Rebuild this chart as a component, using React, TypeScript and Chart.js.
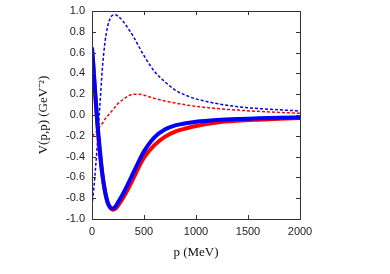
import React, { useEffect, useRef } from "react";
import { Chart, registerables } from "chart.js";

Chart.register(...registerables);

const P = [0, 10, 25, 50, 75, 100, 125, 150, 175, 200, 225, 250, 300, 350, 400, 450, 500, 600, 700, 800, 900, 1000, 1200, 1400, 1600, 1800, 2000];
const blueSolid = [0.65, 0.52, 0.3, -0.05, -0.33, -0.57, -0.73, -0.84, -0.89, -0.9, -0.88, -0.84, -0.755, -0.655, -0.55, -0.445, -0.35, -0.215, -0.14, -0.1, -0.08, -0.065, -0.048, -0.038, -0.032, -0.027, -0.023];
const redSolid = [0.62, 0.5, 0.28, -0.07, -0.36, -0.58, -0.74, -0.84, -0.89, -0.91, -0.9, -0.87, -0.795, -0.705, -0.605, -0.5, -0.41, -0.29, -0.21, -0.16, -0.13, -0.105, -0.072, -0.055, -0.045, -0.037, -0.03];
const redDashed = [-0.2, -0.195, -0.18, -0.15, -0.11, -0.08, -0.04, -0.01, 0.02, 0.05, 0.08, 0.11, 0.15, 0.185, 0.2, 0.2, 0.19, 0.16, 0.135, 0.115, 0.097, 0.083, 0.062, 0.047, 0.035, 0.025, 0.016];
const blueDashed = [-0.87, -0.78, -0.62, -0.3, 0.08, 0.45, 0.7, 0.85, 0.93, 0.96, 0.965, 0.95, 0.9, 0.83, 0.75, 0.66, 0.57, 0.42, 0.32, 0.24, 0.19, 0.155, 0.11, 0.08, 0.062, 0.05, 0.038];
const xTicks = [0, 500, 1000, 1500, 2000];
const yTicks = [-1.0, -0.8, -0.6, -0.4, -0.2, 0.0, 0.2, 0.4, 0.6, 0.8, 1.0];

const pts = (ys: number[]) => P.map((x, i) => ({ x, y: ys[i] }));

const frame = {
  id: "frame",
  afterDatasetsDraw(chart: any) {
    const { ctx, chartArea: a, scales } = chart;
    ctx.save();
    ctx.strokeStyle = "#333";
    ctx.lineWidth = 1;
    const L = 4;
    ctx.beginPath();
    for (const v of xTicks) {
      const x = Math.round(scales.x.getPixelForValue(v)) + 0.5;
      ctx.moveTo(x, a.bottom);
      ctx.lineTo(x, a.bottom - L);
      ctx.moveTo(x, a.top);
      ctx.lineTo(x, a.top + L);
    }
    for (const v of yTicks) {
      const y = Math.round(scales.y.getPixelForValue(v)) + 0.5;
      ctx.moveTo(a.left, y);
      ctx.lineTo(a.left + L, y);
      ctx.moveTo(a.right, y);
      ctx.lineTo(a.right - L, y);
    }
    ctx.stroke();
    ctx.strokeRect(Math.round(a.left) + 0.5, Math.round(a.top) + 0.5, Math.round(a.right - a.left), Math.round(a.bottom - a.top));
    ctx.restore();
  },
};

export default function App() {
  const ref = useRef<HTMLCanvasElement>(null);
  useEffect(() => {
    const chart = new Chart(ref.current as HTMLCanvasElement, {
      type: "line",
      data: {
        datasets: [
          { data: pts(blueSolid), borderColor: "#0000ff", borderWidth: 4, order: 1 },
          { data: pts(redSolid), borderColor: "#ff0000", borderWidth: 4, order: 2 },
          { data: pts(blueDashed), borderColor: "#0000ff", borderWidth: 1.5, borderDash: [3, 2], order: 3 },
          { data: pts(redDashed), borderColor: "#ff0000", borderWidth: 1.5, borderDash: [3, 2], order: 4 },
        ] as any,
      },
      options: {
        animation: false,
        responsive: false,
        events: [],
        elements: { point: { radius: 0 }, line: { cubicInterpolationMode: "monotone", fill: false } },
        plugins: { legend: { display: false }, tooltip: { enabled: false } },
        layout: { padding: { top: 11, right: 90, left: 0, bottom: 0 } },
        scales: {
          x: {
            type: "linear",
            min: 0,
            max: 2000,
            afterBuildTicks: (s: any) => { s.ticks = xTicks.map((v) => ({ value: v })); },
            afterFit: (s: any) => { s.height = 55; s.paddingLeft = 0; s.paddingRight = 0; },
            grid: { display: false, drawTicks: false },
            border: { display: false },
            ticks: { padding: 6, color: "#222", font: { family: "Liberation Sans", size: 11 }, maxRotation: 0, callback: (v: any) => String(v) },
            title: { display: true, text: "p (MeV)", color: "#111", font: { family: "Liberation Serif", size: 13 }, padding: { top: 0, bottom: 14 } },
          },
          y: {
            type: "linear",
            min: -1,
            max: 1,
            afterBuildTicks: (s: any) => { s.ticks = yTicks.map((v) => ({ value: v })); },
            afterFit: (s: any) => { s.width = 92; s.paddingTop = 0; s.paddingBottom = 0; },
            grid: { display: false, drawTicks: false },
            border: { display: false },
            ticks: { padding: 7, color: "#222", font: { family: "Liberation Sans", size: 11 }, callback: (v: any) => Number(v).toFixed(1) },
            title: { display: true, text: "V(p,p) (GeV⁻²)", color: "#111", font: { family: "Liberation Serif", size: 13 }, padding: { top: 36, bottom: 0 } },
          },
        },
      },
      plugins: [frame],
    });
    return () => chart.destroy();
  }, []);
  return (
    <div style={{ position: "absolute", left: 0, top: 0, width: 390, height: 274, background: "#fff" }}>
      <canvas ref={ref} width={390} height={274} style={{ width: 390, height: 274, display: "block" }} />
    </div>
  );
}
